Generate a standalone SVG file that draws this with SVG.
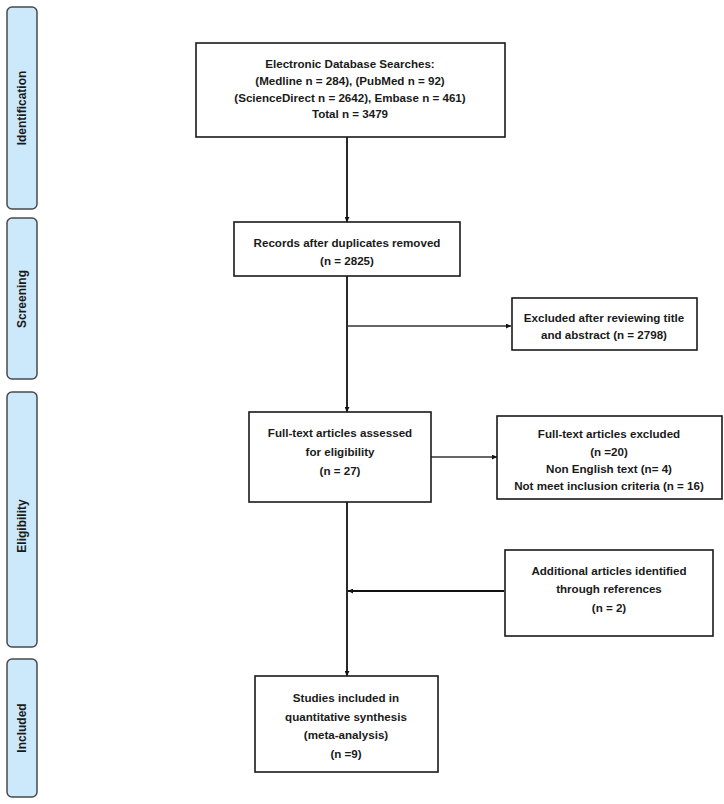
<svg xmlns="http://www.w3.org/2000/svg" width="724" height="804" viewBox="0 0 724 804">
<defs>
<style>
.bar{fill:#cce9fb;stroke:#4a4a4a;stroke-width:1.5}
.lbl{font-family:"Liberation Sans",Arial,sans-serif;font-size:12px;font-weight:bold;fill:#1a1a1a;text-anchor:middle;dominant-baseline:central}
.box{fill:#ffffff;stroke:#1a1a1a;stroke-width:1.6}
.t{font-family:"Liberation Sans",Arial,sans-serif;font-size:11.6px;font-weight:bold;fill:#1a1a1a;text-anchor:middle;dominant-baseline:central}
.ln{stroke:#111;stroke-width:1.8;fill:none}
.ln2{stroke:#333;stroke-width:1.5;fill:none}
</style>
<marker id="ah" viewBox="0 0 10 10" refX="10" refY="5" markerWidth="5" markerHeight="5" orient="auto" markerUnits="userSpaceOnUse">
<path d="M0,0 L10,5 L0,10 z" fill="#111"/>
</marker>
</defs>
<rect width="724" height="804" fill="#ffffff"/>

<g id="phase-identification">
<rect class="bar" x="7" y="7" width="30" height="202" rx="5"/>
<text class="lbl" transform="translate(22,108) rotate(-90)">Identification</text>
</g>
<g id="phase-screening">
<rect class="bar" x="7" y="218" width="30" height="161" rx="5"/>
<text class="lbl" transform="translate(22,299) rotate(-90)">Screening</text>
</g>
<g id="phase-eligibility">
<rect class="bar" x="7" y="392" width="30" height="255" rx="5"/>
<text class="lbl" transform="translate(22,526) rotate(-90)">Eligibility</text>
</g>
<g id="phase-included">
<rect class="bar" x="7" y="659" width="30" height="138" rx="5"/>
<text class="lbl" transform="translate(22,728) rotate(-90)">Included</text>
</g>

<g id="connectors">
<line class="ln" x1="347" y1="137" x2="347" y2="222" marker-end="url(#ah)"/>
<line class="ln" x1="347" y1="276" x2="347" y2="412" marker-end="url(#ah)"/>
<line class="ln2" x1="347" y1="326" x2="511" y2="326" marker-end="url(#ah)"/>
<line class="ln2" x1="431" y1="457" x2="497" y2="457" marker-end="url(#ah)"/>
<line class="ln" x1="347" y1="502" x2="347" y2="676" marker-end="url(#ah)"/>
<line class="ln" x1="504" y1="591" x2="348" y2="591" marker-end="url(#ah)"/>
</g>

<g id="node-search">
<rect class="box" x="196" y="43" width="309" height="94"/>
<text class="t" x="350" y="63">Electronic Database Searches:</text>
<text class="t" x="350" y="80">(Medline n = 284), (PubMed n = 92)</text>
<text class="t" x="350" y="97">(ScienceDirect n = 2642), Embase n = 461)</text>
<text class="t" x="350" y="113">Total n = 3479</text>
</g>

<g id="node-records">
<rect class="box" x="234" y="222" width="226" height="54"/>
<text class="t" x="347" y="242">Records after duplicates removed</text>
<text class="t" x="347" y="260">(n = 2825)</text>
</g>

<g id="node-excluded-title">
<rect class="box" x="512" y="298" width="185" height="52"/>
<text class="t" x="604" y="317">Excluded after reviewing title</text>
<text class="t" x="604" y="334">and abstract (n = 2798)</text>
</g>

<g id="node-fulltext">
<rect class="box" x="249" y="412" width="182" height="90"/>
<text class="t" x="340" y="432">Full-text articles assessed</text>
<text class="t" x="340" y="451">for eligibility</text>
<text class="t" x="340" y="470">(n = 27)</text>
</g>

<g id="node-fulltext-excluded">
<rect class="box" x="497" y="416" width="225" height="83"/>
<text class="t" x="609" y="433">Full-text articles excluded</text>
<text class="t" x="609" y="451">(n =20)</text>
<text class="t" x="609" y="468">Non English text (n= 4)</text>
<text class="t" x="609" y="485">Not meet inclusion criteria (n = 16)</text>
</g>

<g id="node-additional">
<rect class="box" x="505" y="550" width="208" height="86"/>
<text class="t" x="609" y="570">Additional articles identified</text>
<text class="t" x="609" y="588">through references</text>
<text class="t" x="609" y="607">(n = 2)</text>
</g>

<g id="node-included">
<rect class="box" x="255" y="676" width="183" height="96"/>
<text class="t" x="346" y="697">Studies included in</text>
<text class="t" x="346" y="716">quantitative synthesis</text>
<text class="t" x="346" y="734">(meta-analysis)</text>
<text class="t" x="346" y="753">(n =9)</text>
</g>
</svg>
